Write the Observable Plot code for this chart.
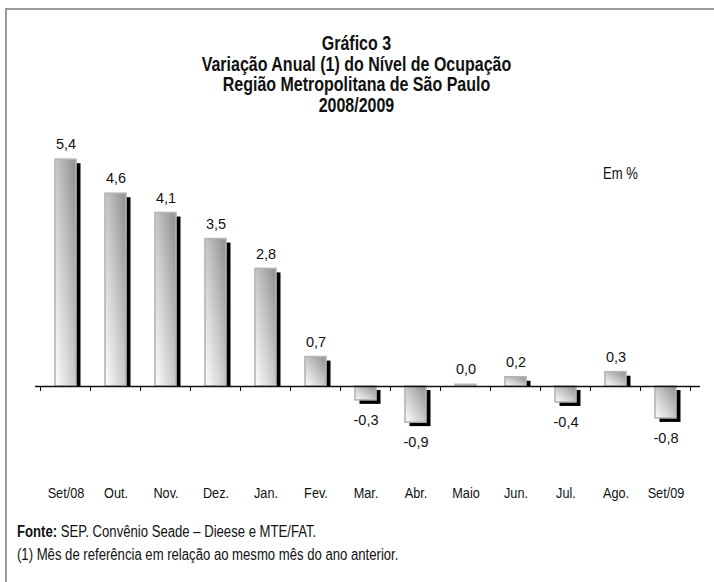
<!DOCTYPE html>
<html><head><meta charset="utf-8">
<script src="https://cdn.jsdelivr.net/npm/d3@7"></script>
<script src="https://cdn.jsdelivr.net/npm/@observablehq/plot@0.6"></script>
<style>
body{margin:0;background:#fff;}
#wrap{position:relative;width:714px;height:582px;overflow:hidden;font-family:"Liberation Sans",Arial,sans-serif;color:#111;}
#frame{position:absolute;left:5px;top:8px;right:-10px;bottom:-10px;border-top:2.5px solid #999;border-left:2.5px solid #999;}
#title{position:absolute;left:0;width:714px;top:33px;text-align:center;font-weight:bold;font-size:19.5px;line-height:20.5px;}
#title div{transform:scaleX(0.82);transform-origin:354px 0;white-space:nowrap;}
#chart{position:absolute;left:0;top:120px;}
#em{position:absolute;left:603px;top:165px;font-size:16px;transform:scaleX(0.82);transform-origin:0 0;white-space:nowrap;}
#caption{position:absolute;left:17px;top:520px;font-size:16px;line-height:23px;}
#caption div{transform:scaleX(0.82);transform-origin:0 0;white-space:nowrap;}
</style></head>
<body><div id="wrap">
<div id="frame"></div>
<div id="title"><div>Gráfico 3</div><div>Variação Anual (1) do Nível de Ocupação</div><div>Região Metropolitana de São Paulo</div><div>2008/2009</div></div>
<div id="chart"></div>
<div id="em">Em %</div>
<div id="caption"><div><b>Fonte:</b> SEP. Convênio Seade – Dieese e MTE/FAT.</div><div>(1) Mês de referência em relação ao mesmo mês do ano anterior.</div></div>
</div>
<script>
const months = ["Set/08","Out.","Nov.","Dez.","Jan.","Fev.","Mar.","Abr.","Maio","Jun.","Jul.","Ago.","Set/09"];
const values = [5.4, 4.59, 4.13, 3.51, 2.8, 0.7, -0.33, -0.86, 0.04, 0.22, -0.38, 0.34, -0.76];

const data = months.map((m, i) => ({m, v: values[i]}));
const fmt = d => d.v.toFixed(1).replace(".", ",");
const font = '"Liberation Sans",Arial,sans-serif';

function boundaryTicks(index, scales) {
  const x = scales.x, y = scales.y;
  const bw = x.bandwidth();
  const step = x(months[1]) - x(months[0]);
  const xs = months.map(m => x(m) + bw / 2 - step / 2);
  xs.push(x(months[months.length - 1]) + bw / 2 + step / 2);
  const y0 = y(0);
  const g = d3.create("svg:g").attr("stroke", "#111").attr("stroke-width", 1);
  for (const xx of xs) g.append("line").attr("x1", xx).attr("x2", xx).attr("y1", y0).attr("y2", y0 + 5);
  return g.node();
}

const plot = Plot.plot({
  width: 714,
  height: 390,
  marginLeft: 35,
  marginRight: 14,
  marginTop: 0,
  marginBottom: 24,
  style: {fontFamily: font, overflow: "visible", background: "transparent"},
  x: {domain: months, range: [35, 696.7], paddingInner: 0.578, paddingOuter: 0.289, axis: null},
  y: {domain: [-1, 5.6], range: [266 + 42, 266 - 5.6 * 42], axis: null},
  marks: [
    Plot.barY(data.filter(d => d.v > 0), {x: "m", y1: 0, y2: "v", fill: "#000", dx: 4.5, dy: 4, insetBottom: 4}),
    Plot.barY(data.filter(d => d.v < 0), {x: "m", y1: 0, y2: "v", fill: "#000", dx: 4.5, dy: 4}),
    Plot.barY(data, {x: "m", y1: 0, y2: "v", fill: "url(#barGrad)", stroke: "#b4b4b4", strokeWidth: 1.6}),
    Plot.ruleY([0], {stroke: "#111", strokeWidth: 1.3}),
    boundaryTicks,
    Plot.text(data.filter(d => d.v >= 0), {x: "m", y: "v", text: fmt, dy: -15, fontSize: 14.5, fill: "#111"}),
    Plot.text(data.filter(d => d.v < 0), {x: "m", y: "v", text: fmt, dy: 20, fontSize: 14.5, fill: "#111"}),
    Plot.axisX({tickSize: 0, tickPadding: 0, fontSize: 15.5, label: null, fill: "#111"})
  ]
});

d3.select(plot).insert("defs", ":first-child").html(
  '<linearGradient id="barGrad" x1="1" y1="0" x2="0" y2="1">' +
  '<stop offset="0" stop-color="#8e8e8e"/><stop offset="0.5" stop-color="#c8c8c8"/><stop offset="1" stop-color="#fdfdfd"/></linearGradient>'
);
document.getElementById("chart").appendChild(plot);
// condensed (Arial Narrow-like) rendering of the month labels
d3.select(plot).selectAll("text").each(function () {
  if (!months.includes(this.textContent)) return;
  const len = this.getComputedTextLength();
  this.setAttribute("textLength", len * 0.82);
  this.setAttribute("lengthAdjust", "spacingAndGlyphs");
});
</script>
</body></html>
